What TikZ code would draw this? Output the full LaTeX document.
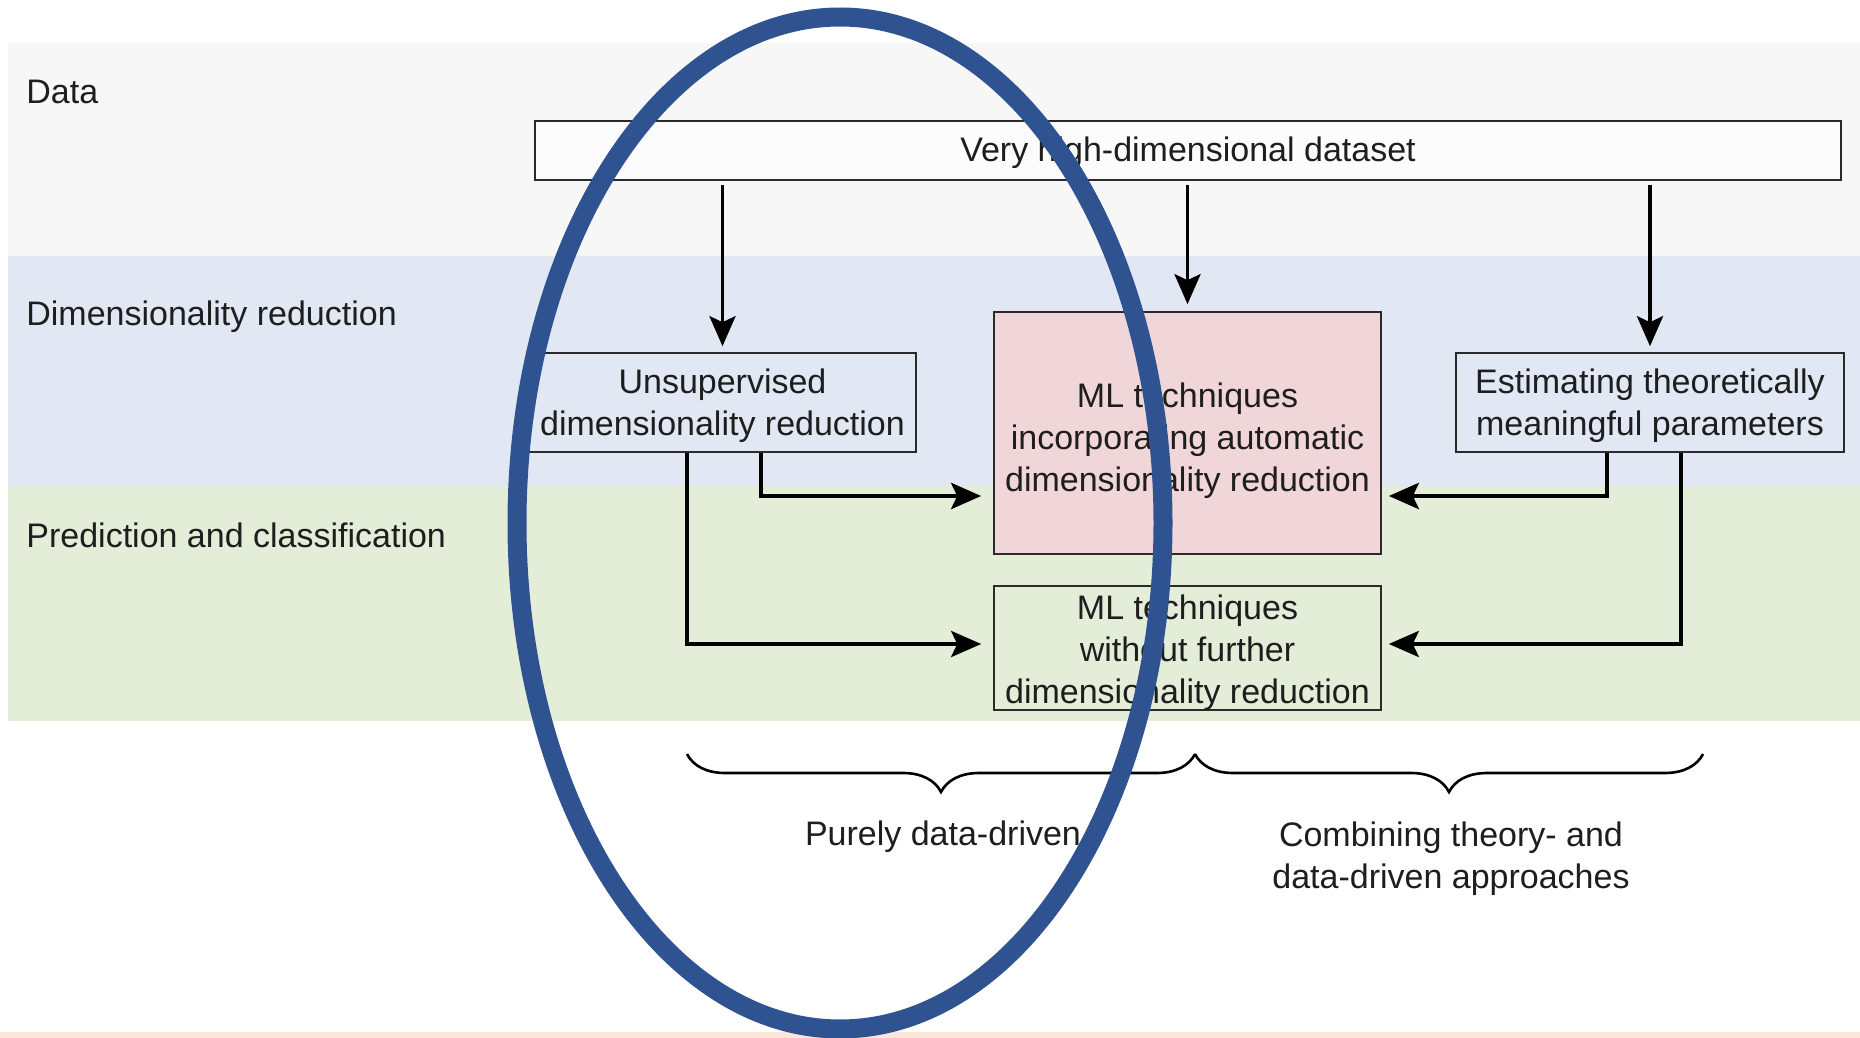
\documentclass[tikz,border=0pt]{standalone}
\usepackage{fontspec}
\setmainfont{Liberation Sans}
\usetikzlibrary{arrows.meta,calc,decorations.pathreplacing}
\definecolor{bandgray}{HTML}{F7F7F7}
\definecolor{bandblue}{HTML}{E1E7F3}
\definecolor{bandgreen}{HTML}{E3EDD8}
\definecolor{pinkfill}{HTML}{F1D6D9}
\definecolor{peach}{HTML}{FCE6D9}
\definecolor{ellblue}{HTML}{2F5290}
\definecolor{txt}{HTML}{1E1E1E}
\definecolor{boxline}{HTML}{2A2A2A}
\begin{document}
\begin{tikzpicture}[x=0.5pt,y=-0.5pt,
  every node/.style={font=\fontsize{17}{21}\selectfont, text=txt},
  lbl/.style={anchor=base west, inner sep=0pt},
  box/.style={draw=boxline, line width=0.8pt, inner sep=0pt, minimum width=193.5pt},
  boxtext/.style={inner sep=0pt, align=center},
  arr/.style={line width=1.9pt, draw=black, -{Stealth[length=15pt,width=13pt,inset=3pt]}},
  arrb/.style={arr, line width=2.4pt},
  brc/.style={draw=black, line width=1.3pt, decorate, decoration={brace, mirror, amplitude=19pt}},
  ell/.style={draw=ellblue, line width=9.5pt}]
\useasboundingbox (0,0) rectangle (1860,1038);
\fill[white] (0,0) rectangle (1860,1038);
% bands
\fill[bandgray] (8,43) rectangle (1860,256);
\fill[bandblue] (8,256) rectangle (1860,486);
\fill[bandgreen] (8,486) rectangle (1860,721);
\fill[peach] (0,1032) rectangle (1860,1038);
% band labels
\node[lbl] (lData) at (26,104) {Data};
\node[lbl] (lDim) at (26,325) {Dimensionality reduction};
\node[lbl] (lPred) at (26,547) {Prediction and classification};
% boxes
\node[box, fill=bandgray!40!white, minimum width=653pt, minimum height=29.5pt] (data) at (1188,150.5) {};
\node[box, minimum height=49.5pt] (unsup) at (722.5,402.5) {};
\node[box, fill=pinkfill, minimum height=121pt] (pinkb) at (1187.5,433) {};
\node[box, minimum height=62pt] (mlw) at (1187.5,648) {};
\node[box, minimum width=194pt, minimum height=49.5pt] (est) at (1650,402.5) {};
% box texts
\node[boxtext] (dataT) at ($(data)+(0,2.5)$) {Very high-dimensional dataset};
\node[boxtext] (unsupT) at ($(unsup)+(0,3)$) {Unsupervised\\dimensionality reduction};
\node[boxtext] (pinkT) at ($(pinkb)+(0,8)$) {ML techniques\\incorporating automatic\\dimensionality reduction};
\node[boxtext] (mlwT) at ($(mlw)+(0,5)$) {ML techniques\\without further\\dimensionality reduction};
\node[boxtext] (estT) at ($(est)+(0,3)$) {Estimating theoretically\\meaningful parameters};
% down arrows
\draw[arr] ($(data.south -| unsup.north)+(0,4)$) -- ($(unsup.north)+(0,-6)$);
\draw[arr] ($(data.south -| pinkb.north)+(0,4)$) -- ($(pinkb.north)+(0,-7)$);
\draw[arr] ($(data.south -| est.north)+(0,4)$) -- ($(est.north)+(0,-6)$);
% elbow arrows
\draw[arrb] ($(unsup.south)+(38.5,0)$) |- ($(pinkb.west)+(-12,63)$);
\draw[arr] ($(unsup.south)+(-35.5,0)$) |- ($(mlw.west)+(-12,-4)$);
\draw[arrb] ($(est.south)+(-43,0)$) |- ($(pinkb.east)+(7,63)$);
\draw[arr] ($(est.south)+(31,0)$) |- ($(mlw.east)+(7,-4)$);
% braces
\coordinate (b1) at (687,754);
\coordinate (b2) at (1195,754);
\coordinate (b3) at (1703,754);
\draw[brc] (b1) -- (b2);
\draw[brc] (b2) -- (b3);
\node[anchor=base] (pure) at (943,845) {Purely data-driven};
\node[align=center] (comb) at (1451,859) {Combining theory- and\\data-driven approaches};
% highlight ellipse
\draw[ell] (840,523) ellipse [x radius=161.5pt, y radius=253pt];
\end{tikzpicture}
\end{document}
